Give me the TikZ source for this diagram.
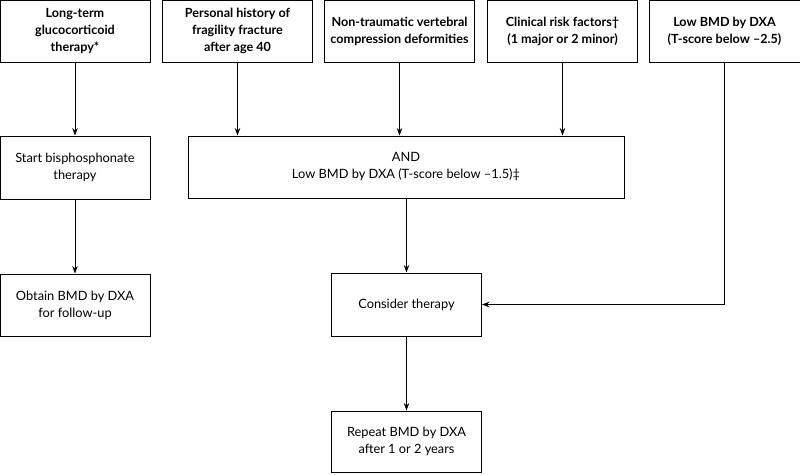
\documentclass[tikz,border=0pt]{standalone}
\usepackage{fontspec}
\setmainfont{Lato}
\usetikzlibrary{arrows.meta}
\begin{document}
\begin{tikzpicture}[x=1pt,y=-1pt,
  box/.style={draw, line width=1pt, minimum width=150pt, minimum height=62pt, align=center, inner sep=2pt, font=\fontsize{12.8}{17}\selectfont},
  topbox/.style={box, font=\bfseries\fontsize{12.6}{17}\selectfont},
  arr/.style={-{Stealth[length=7.5pt,width=5.5pt]}, line width=0.7pt}]
\useasboundingbox (0,0) rectangle (800,474);
\node[topbox] (a) at (75,31) {Long-term\\glucocorticoid\\therapy*};
\node[topbox] (b) at (237.5,31) {Personal history of\\fragility fracture\\after age 40};
\node[topbox] (c) at (399.5,31) {Non-traumatic vertebral\\compression deformities};
\node[topbox] (d) at (562.5,31) {Clinical risk factors†\\(1 major or 2 minor)};
\node[topbox, minimum width=151pt] (e) at (724.5,31) {Low BMD by DXA\\(T-score below –2.5)};
\node[box, minimum height=63pt] (start) at (75,167.5) {Start bisphosphonate\\therapy};
\node[box, minimum width=436pt] (and) at (406,167) {AND\\Low BMD by DXA (T-score below –1.5)‡};
\node[box] (obtain) at (75,305) {Obtain BMD by DXA\\for follow-up};
\node[box, minimum height=63pt] (consider) at (406.5,304.5) {Consider therapy};
\node[box, minimum height=61pt] (repeat) at (406.5,441.5) {Repeat BMD by DXA\\after 1 or 2 years};
\draw[arr] (a) -- (start);
\draw[arr] (start) -- (obtain);
\draw[arr] (b.south) -- (b.south |- and.north);
\draw[arr] (c.south) -- (c.south |- and.north);
\draw[arr] (d.south) -- (d.south |- and.north);
\draw[arr] (e.south) |- (consider.east);
\draw[arr] (consider.north |- and.south) -- (consider.north);
\draw[arr] (consider) -- (repeat);
\end{tikzpicture}
\end{document}
